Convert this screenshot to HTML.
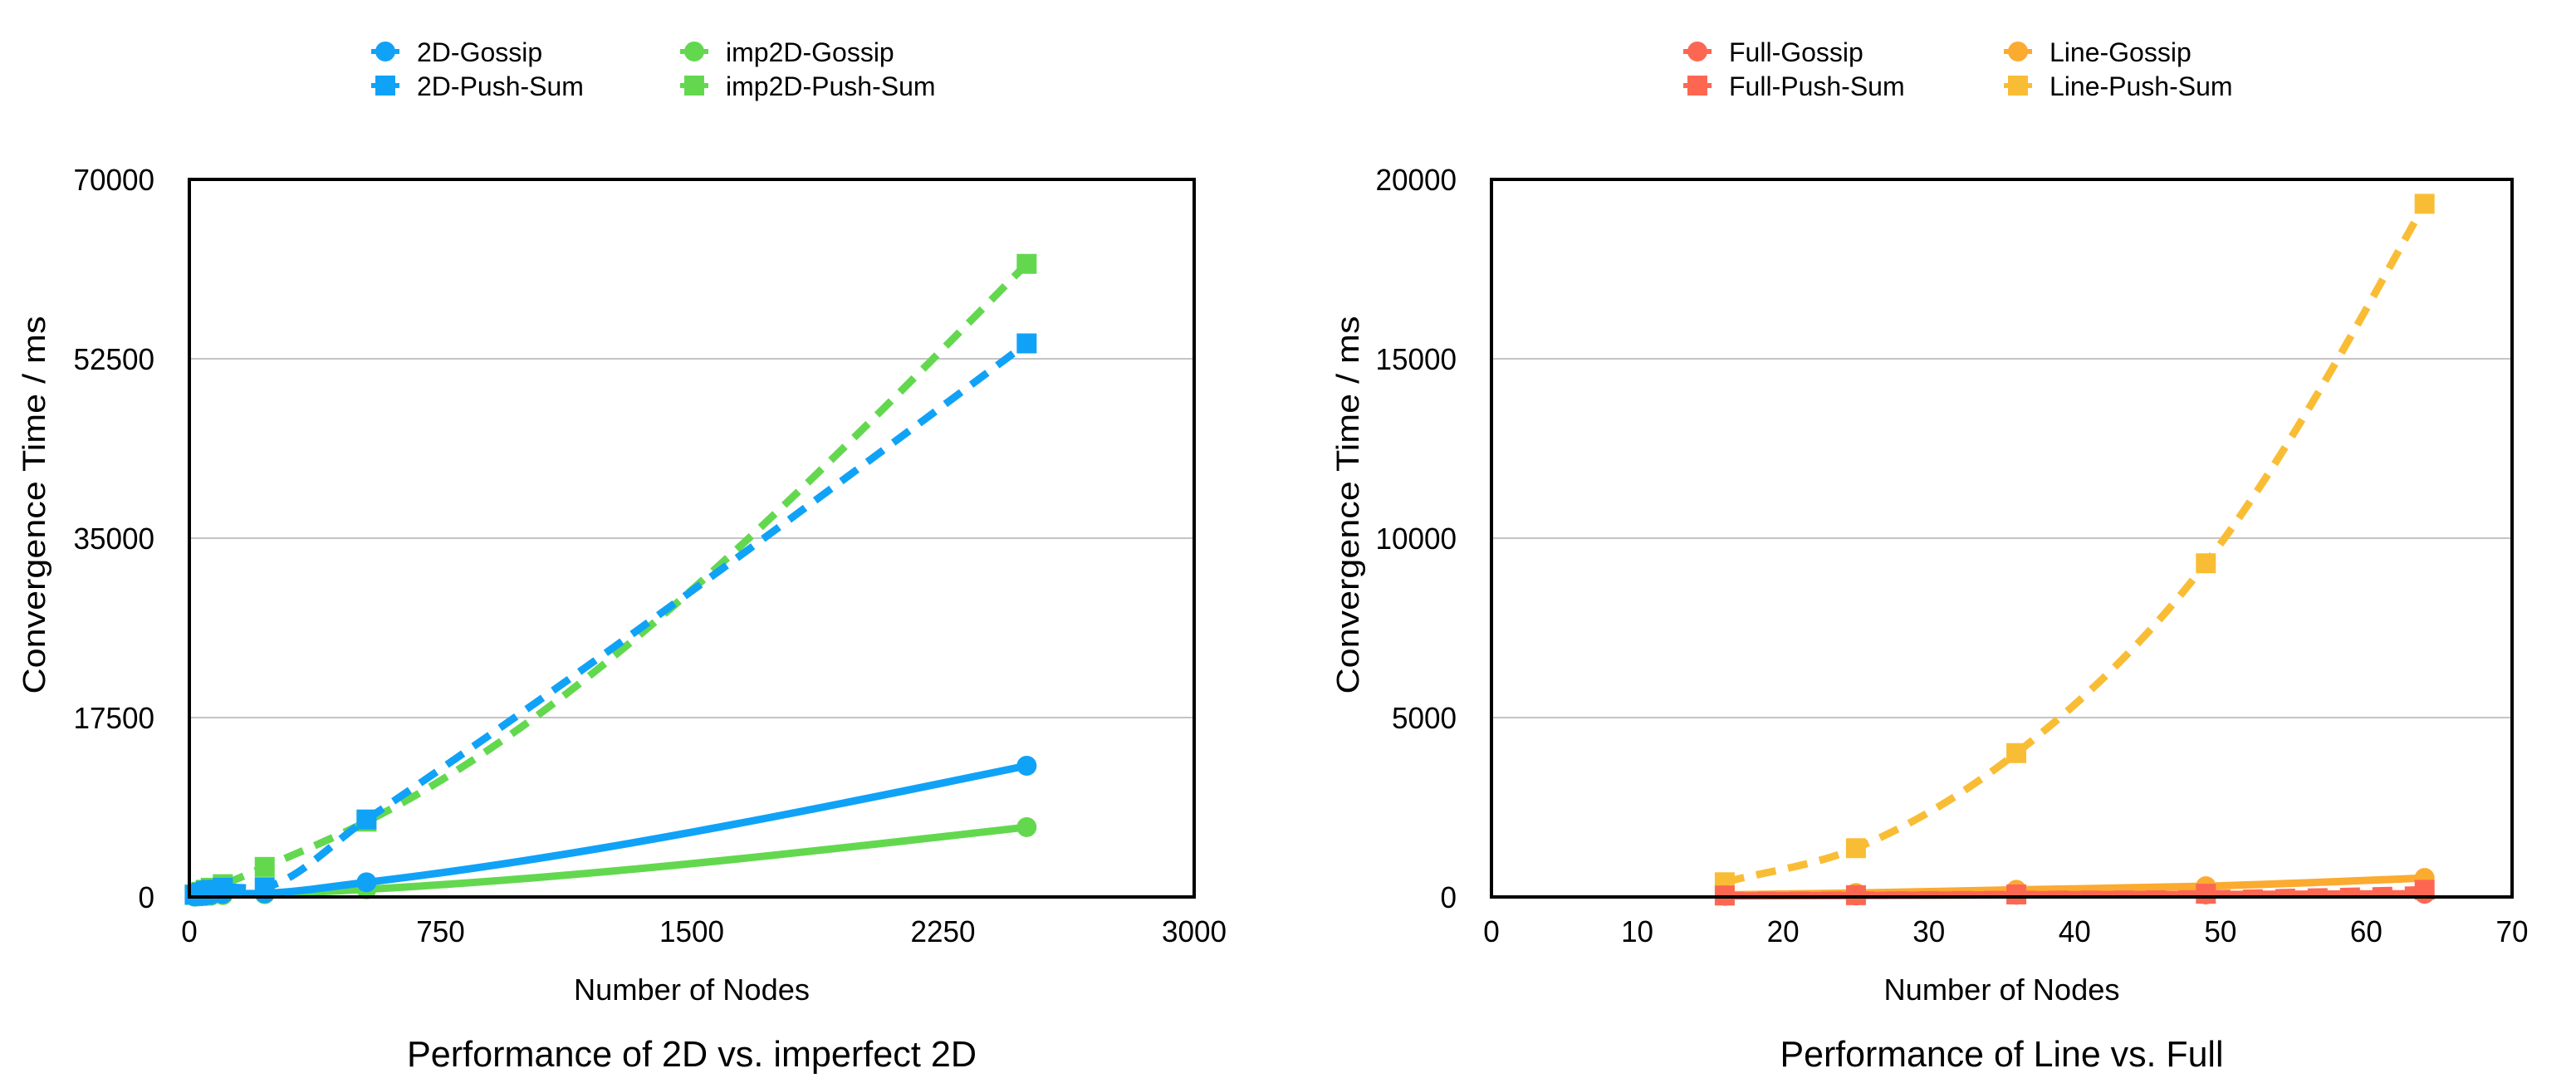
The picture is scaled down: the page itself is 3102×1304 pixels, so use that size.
<!DOCTYPE html>
<html><head><meta charset="utf-8"><style>
html,body{margin:0;padding:0;background:#fff;}
svg{display:block;font-family:"Liberation Sans",sans-serif;}
</style></head><body>
<svg id="s" width="3102" height="1304" viewBox="0 0 3102 1304" xmlns="http://www.w3.org/2000/svg"></svg>
<script>
// ---- Left chart data ----
const leftX = [16, 25, 36, 49, 64, 100, 225, 529, 2500];
const gossip2D = [50, 80, 100, 150, 200, 300, 350, 1430, 12800];
const push2D = [200, 300, 400, 600, 700, 900, 950, 7560, 54000];
const impGossip = [30, 50, 70, 90, 120, 180, 270, 750, 6810];
const impPush = [250, 350, 500, 700, 900, 1250, 2930, 7350, 61760];
const leftXTicks = [0, 750, 1500, 2250, 3000];
const leftYTicks = [0, 17500, 35000, 52500, 70000];
// ---- Right chart data ----
const rightX = [16, 25, 36, 49, 64];
const fullGossip = [30, 40, 60, 70, 90];
const fullPush = [40, 50, 70, 90, 200];
const lineGossip = [60, 110, 200, 300, 530];
const linePush = [410, 1360, 4010, 9300, 19320];
const rightXTicks = [0, 10, 20, 30, 40, 50, 60, 70];
const rightYTicks = [0, 5000, 10000, 15000, 20000];

const NS = "http://www.w3.org/2000/svg";
const svg = document.getElementById('s');
function mk(tag, attrs, parent) {
  const e = document.createElementNS(NS, tag);
  for (const k in attrs) e.setAttribute(k, attrs[k]);
  (parent || svg).appendChild(e);
  return e;
}
function txt(str, attrs, parent) { const t = mk('text', attrs, parent); t.textContent = str; return t; }

function smoothPath(xs, ys, sx, sy) {
  const n = xs.length, m = [];
  const sl = [];
  for (let i = 0; i < n - 1; i++) sl.push((ys[i + 1] - ys[i]) / (xs[i + 1] - xs[i]));
  for (let i = 0; i < n; i++) {
    if (i === 0) m.push(sl[0]);
    else if (i === n - 1) m.push(2 * sl[n - 2] - m[n - 2] > 0 ? 1.5 * sl[n - 2] - 0.5 * m[n - 2] : sl[n - 2]);
    else {
      const a = xs[i] - xs[i - 1], b = xs[i + 1] - xs[i];
      m.push((sl[i - 1] * b + sl[i] * a) / (a + b));
    }
  }
  let d = `M${sx(xs[0])},${sy(ys[0])}`;
  for (let i = 0; i < n - 1; i++) {
    const dx = xs[i + 1] - xs[i];
    d += ` C${sx(xs[i] + dx / 3)},${sy(ys[i] + m[i] * dx / 3)} ${sx(xs[i + 1] - dx / 3)},${sy(ys[i + 1] - m[i + 1] * dx / 3)} ${sx(xs[i + 1])},${sy(ys[i + 1])}`;
  }
  return d;
}

function chart(cfg) {
  const g = mk('g', {});
  
  
  const {x0, x1, y0, y1} = cfg;
  const xmax = cfg.xTicks[cfg.xTicks.length - 1], ymax = cfg.yTicks[cfg.yTicks.length - 1];
  const sx = v => x0 + v / xmax * (x1 - x0);
  const sy = v => y1 - v / ymax * (y1 - y0);
  cfg.yTicks.forEach((t, i) => {
    if (i > 0 && i < cfg.yTicks.length - 1) {
      const l = mk('line', {x1: x0, x2: x1, y1: sy(t), y2: sy(t), stroke: '#c4c4c4', 'stroke-width': 2}, g);
      
      
    }
    const tl = txt(String(t), {x: x0 - 42, y: sy(t) + 13, 'text-anchor': 'end', 'font-size': 36, textLength: String(t).length * 19.5, lengthAdjust: 'spacingAndGlyphs'}, g);
    
    
  });
  cfg.xTicks.forEach(t => {
    const tl = txt(String(t), {x: sx(t), y: y1 + 54, 'text-anchor': 'middle', 'font-size': 36, textLength: String(t).length * 19.5, lengthAdjust: 'spacingAndGlyphs'}, g);
    
    
  });
  cfg.series.forEach(s => {
    const sg = mk('g', {}, g);
    
    
    const p = mk('path', {d: smoothPath(cfg.xs, s.v, sx, sy), fill: 'none', stroke: s.c, 'stroke-width': 9,
      'stroke-dasharray': s.dash ? '24 15' : 'none'}, sg);
    
    
    cfg.xs.forEach((xv, i) => {
      const px = sx(xv), py = sy(s.v[i]);
      let m;
      if (s.sq) m = mk('rect', {x: px - 12, y: py - 12, width: 24, height: 24, fill: s.c}, sg);
      else m = mk('circle', {cx: px, cy: py, r: 12, fill: s.c}, sg);
      
      
    });
  });
  const fr = mk('rect', {x: x0, y: y0, width: x1 - x0, height: y1 - y0, fill: 'none', stroke: '#000', 'stroke-width': 4}, g);
  
  
  const cx = (x0 + x1) / 2;
  const xt = txt('Number of Nodes', {x: cx, y: y1 + 124, 'text-anchor': 'middle', 'font-size': 36, textLength: 284, lengthAdjust: 'spacingAndGlyphs'}, g);
  
  
  const yt = txt('Convergence Time / ms', {x: 0, y: 0, 'text-anchor': 'middle', 'font-size': 38, textLength: 455, lengthAdjust: 'spacingAndGlyphs',
    transform: `translate(${cfg.yTitleX},${(y0 + y1) / 2 - 40}) rotate(-90)`}, g);
  
  
  const tt = txt(cfg.title, {x: cx, y: 1284, 'text-anchor': 'middle', 'font-size': 44, textLength: cfg.titleW, lengthAdjust: 'spacingAndGlyphs'}, g);
  
  
  cfg.legend.forEach(L => {
    const lg = mk('g', {}, g);
    
    
    mk('line', {x1: L.x - 17, x2: L.x + 17, y1: L.y, y2: L.y, stroke: L.c, 'stroke-width': 6}, lg);
    if (L.sq) mk('rect', {x: L.x - 12, y: L.y - 12, width: 24, height: 24, fill: L.c}, lg);
    else mk('circle', {cx: L.x, cy: L.y, r: 12, fill: L.c}, lg);
    txt(L.t, {x: L.x + 38, y: L.y + 12, 'font-size': 32}, lg);
  });
}

const BLUE = '#10a2f7', GREEN = '#63d84f', RED = '#fd6752', ORANGE = '#fbab2f', YEL = '#f9bd35';
chart({name: 'left-chart', x0: 228, x1: 1438, y0: 216, y1: 1080, xs: leftX,
  xTicks: leftXTicks, yTicks: leftYTicks, yTitleX: 54, title: 'Performance of 2D vs. imperfect 2D', titleW: 686,
  series: [
    {id: 'imp2d-gossip', v: impGossip, c: GREEN},
    {id: '2d-gossip', v: gossip2D, c: BLUE},
    {id: 'imp2d-push-sum', v: impPush, c: GREEN, dash: 1, sq: 1},
    {id: '2d-push-sum', v: push2D, c: BLUE, dash: 1, sq: 1}],
  legend: [
    {x: 464, y: 62, c: BLUE, t: '2D-Gossip'}, {x: 464, y: 103, c: BLUE, t: '2D-Push-Sum', sq: 1},
    {x: 836, y: 62, c: GREEN, t: 'imp2D-Gossip'}, {x: 836, y: 103, c: GREEN, t: 'imp2D-Push-Sum', sq: 1}]
});
chart({name: 'right-chart', x0: 1796, x1: 3025, y0: 216, y1: 1080, xs: rightX,
  xTicks: rightXTicks, yTicks: rightYTicks, yTitleX: 1636, title: 'Performance of Line vs. Full', titleW: 534,
  series: [
    {id: 'line-push-sum', v: linePush, c: YEL, dash: 1, sq: 1},
    {id: 'line-gossip', v: lineGossip, c: ORANGE},
    {id: 'full-push-sum', v: fullPush, c: RED, dash: 1, sq: 1},
    {id: 'full-gossip', v: fullGossip, c: RED}],
  legend: [
    {x: 2044, y: 62, c: RED, t: 'Full-Gossip'}, {x: 2044, y: 103, c: RED, t: 'Full-Push-Sum', sq: 1},
    {x: 2430, y: 62, c: ORANGE, t: 'Line-Gossip'}, {x: 2430, y: 103, c: YEL, t: 'Line-Push-Sum', sq: 1}]
});
</script>
</body></html>
